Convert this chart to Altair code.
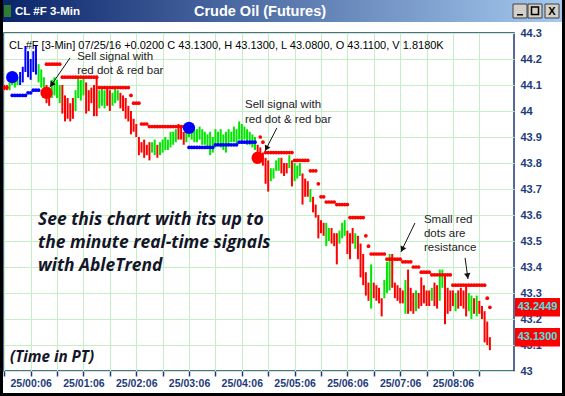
import math
import altair as alt
import pandas as pd

# ---------------- data (3-minute bars, index 0 = 24/23:36) ----------------
bar_high = [
    44.10, 44.10, 44.11, 44.14, 44.13, 44.13, 44.15, 44.17, 44.25, 44.23,
    44.20, 44.23, 44.25, 44.18, 44.16, 44.13, 44.10, 44.09, 44.12, 44.13,
    44.12, 44.10, 44.10, 44.06, 44.05, 44.03, 44.05, 44.08, 44.13, 44.12,
    44.13, 44.11, 44.08, 44.09, 44.10, 44.13, 44.08, 44.09, 44.08, 44.09,
    44.08, 44.07, 44.09, 44.08, 44.07, 44.06, 44.05, 44.02, 44.00, 43.97,
    43.95, 43.90, 43.88, 43.89, 43.87, 43.88, 43.88, 43.89, 43.87, 43.88,
    43.89, 43.90, 43.89, 43.92, 43.92, 43.93, 43.95, 43.94, 43.92, 43.93,
    43.95, 43.94, 43.93, 43.93, 43.94, 43.93, 43.92, 43.91, 43.92, 43.90,
    43.93, 43.92, 43.93, 43.91, 43.92, 43.93, 43.92, 43.94, 43.93, 43.96,
    43.95, 43.94, 43.93, 43.92, 43.91, 43.90, 43.87, 43.86, 43.84, 43.82,
    43.81, 43.78, 43.78, 43.81, 43.82, 43.82, 43.80, 43.80, 43.83, 43.81,
    43.80, 43.79, 43.80, 43.76, 43.74, 43.73, 43.70, 43.67, 43.64, 43.60,
    43.58, 43.57, 43.57, 43.55, 43.55, 43.53, 43.53, 43.54, 43.57, 43.58,
    43.54, 43.53, 43.55, 43.53, 43.52, 43.49, 43.45, 43.38, 43.34, 43.41,
    43.34, 43.33, 43.32, 43.28, 43.35, 43.42, 43.45, 43.45, 43.34, 43.33,
    43.32, 43.31, 43.35, 43.39, 43.32, 43.30, 43.31, 43.30, 43.36, 43.33,
    43.31, 43.31, 43.32, 43.34, 43.33, 43.39, 43.39, 43.37, 43.32, 43.31,
    43.31, 43.30, 43.31, 43.32, 43.31, 43.33, 43.30, 43.29, 43.28, 43.29,
    43.27, 43.25, 43.23, 43.19, 43.13,
]
bar_low = [
    44.08, 44.08, 44.08, 44.10, 44.09, 44.10, 44.10, 44.11, 44.15, 44.13,
    44.12, 44.15, 44.14, 44.11, 44.09, 44.07, 44.03, 44.02, 44.05, 44.06,
    44.05, 44.03, 43.99, 43.96, 43.97, 43.96, 43.97, 44.00, 44.05, 44.04,
    44.06, 43.99, 44.00, 44.03, 43.98, 43.98, 44.01, 44.02, 44.01, 44.02,
    44.00, 44.02, 44.03, 44.04, 44.01, 44.00, 43.97, 43.96, 43.91, 43.92,
    43.90, 43.83, 43.84, 43.82, 43.83, 43.81, 43.84, 43.83, 43.82, 43.83,
    43.84, 43.85, 43.85, 43.86, 43.87, 43.88, 43.89, 43.89, 43.87, 43.88,
    43.90, 43.89, 43.88, 43.88, 43.89, 43.87, 43.87, 43.86, 43.83, 43.84,
    43.86, 43.87, 43.86, 43.85, 43.84, 43.87, 43.88, 43.88, 43.87, 43.89,
    43.88, 43.89, 43.87, 43.87, 43.86, 43.85, 43.82, 43.81, 43.79, 43.72,
    43.69, 43.73, 43.74, 43.77, 43.77, 43.76, 43.75, 43.76, 43.78, 43.71,
    43.73, 43.74, 43.75, 43.64, 43.67, 43.67, 43.65, 43.61, 43.59, 43.51,
    43.53, 43.52, 43.48, 43.50, 43.49, 43.48, 43.41, 43.49, 43.51, 43.52,
    43.45, 43.43, 43.49, 43.47, 43.43, 43.36, 43.33, 43.29, 43.27, 43.24,
    43.28, 43.27, 43.26, 43.21, 43.28, 43.30, 43.31, 43.32, 43.28, 43.27,
    43.26, 43.26, 43.22, 43.22, 43.23, 43.22, 43.23, 43.24, 43.25, 43.26,
    43.25, 43.25, 43.27, 43.25, 43.24, 43.27, 43.32, 43.18, 43.22, 43.23,
    43.25, 43.23, 43.24, 43.25, 43.24, 43.21, 43.23, 43.20, 43.22, 43.21,
    43.22, 43.20, 43.11, 43.10, 43.08,
]
# b = strong up (blue), g = neutral (green), r = down (red)
bar_trend = list(
    "rrggggbbbb" "bbbgggrrgg" "ggrrrrrggg" "grrrrrgggr" "rgggrrrrrr"
    "rrrrrrggrg" "ggggggrrrg" "gggggggggg" "gggggggggg" "ggggggrrrr"
    "rggggrrrgr" "gggrrrgrrr" "rrggrrrggg" "rrrgrrrrrg" "rrrrgggrrr"
    "rrgrrrgrrr" "rrgrrggrrr" "rgrrrrggrg" "rrrrr"
)

# stepped stop levels (small dots): first bar, last bar, price
red_stop_from = [0, 16, 22, 36, 48, 49, 52, 55, 97, 98, 99, 110, 116, 119, 120,
                 122, 126, 131, 137, 138, 139, 145, 151, 155, 158, 162, 170, 183, 184]
red_stop_to = [1, 21, 35, 47, 48, 51, 54, 68, 97, 98, 109, 115, 118, 119, 121,
               125, 130, 136, 137, 138, 144, 150, 154, 157, 161, 169, 182, 183, 184]
red_stop_price = [44.09, 44.18, 44.13, 44.09, 44.06, 44.03, 43.95, 43.94, 43.90, 43.88,
                  43.84, 43.81, 43.77, 43.72, 43.67, 43.65, 43.64, 43.59, 43.52, 43.48,
                  43.45, 43.43, 43.42, 43.40, 43.38, 43.37, 43.33, 43.28, 43.2449]
blue_stop_from = [3, 9, 11, 70, 80, 89]
blue_stop_to = [8, 10, 13, 79, 88, 95]
blue_stop_price = [44.06, 44.07, 44.08, 43.86, 43.87, 43.88]

signal_bar = [3, 16, 70, 96]
signal_price = [44.13, 44.07, 43.935, 43.82]
signal_kind = ["buy", "sell", "buy", "sell"]

x_tick_bars = list(range(0, 181, 10))
x_label_bars = [10, 30, 50, 70, 90, 110, 130, 150, 170]
x_label_text = ["25/00:06", "25/01:06", "25/02:06", "25/03:06", "25/04:06",
                "25/05:06", "25/06:06", "25/07:06", "25/08:06"]
y_ticks = [43.0, 43.1, 43.2, 43.3, 43.4, 43.5, 43.6, 43.7, 43.8, 43.9,
           44.0, 44.1, 44.2, 44.3]
last_values = [43.2449, 43.13]
last_labels = ["43.2449", "43.1300"]

header = "CL #F [3-Min] 07/25/16  +0.0200 C 43.1300, H 43.1300, L 43.0800, O 43.1100, V 1.8180K"

note_text = ["Sell signal with", "red dot & red bar", "Sell signal with",
             "red dot & red bar", "Small red", "dots are", "resistance"]
note_bar = [27.6, 27.6, 91.2, 91.2, 159.0, 159.0, 159.0]
note_price = [44.208, 44.154, 44.023, 43.965, 43.581, 43.527, 43.473]

arrow_bar0 = [24.9, 103.3, 155.6, 174.6]
arrow_price0 = [44.204, 43.935, 43.569, 43.435]
arrow_bar1 = [17.3, 98.8, 150.3, 175.7]
arrow_price1 = [44.092, 43.846, 43.458, 43.354]

promo_text = ["See this chart with its up to", "the minute real-time signals", "with AbleTrend"]
promo_bar = [12.8, 12.8, 12.8]
promo_price = [43.581, 43.492, 43.404]
time_note = "(Time in PT)"
time_note_bar = [2.2]
time_note_price = [43.054]

# ---------------- styling ----------------
W, H = 510, 338
XDOM = [-0.11, 193.14]
YDOM = [43.0, 44.3]
PXB = W / (XDOM[1] - XDOM[0])
PXP = H / (YDOM[1] - YDOM[0])
NAVY = "#1d3b7c"
GRID = "#c4efc4"
FONT = "Liberation Sans"

label_expr = "".join(f"datum.value == {b} ? '{t}' : " for b, t in zip(x_label_bars, x_label_text)) + "''"

X_SCALE = alt.Scale(domain=XDOM, nice=False, zero=False)
Y_SCALE = alt.Scale(domain=YDOM, nice=False, zero=False)
X_AXIS = alt.Axis(values=x_tick_bars, labelExpr=label_expr, grid=True, gridColor=GRID,
                  gridOpacity=1, domain=False, ticks=True, tickSize=5, tickColor=NAVY,
                  tickWidth=1.5, labelFont=FONT, labelFontWeight="bold", labelFontSize=10.5,
                  labelColor=NAVY, labelPadding=2, title=None, labelAngle=0,
                  labelOverlap=False, labelFlush=False)
Y_AXIS = alt.Axis(orient="right", values=y_ticks, format=".1~f", grid=True, gridColor=GRID,
                  gridOpacity=1, domain=False, ticks=False, labelFont=FONT,
                  labelFontWeight="bold", labelFontSize=11, labelColor=NAVY, labelPadding=6,
                  title=None, labelOverlap=False, labelFlush=False)


def X(f):
    return alt.X(f, type="quantitative", scale=X_SCALE, axis=X_AXIS)


def Y(f):
    return alt.Y(f, type="quantitative", scale=Y_SCALE, axis=Y_AXIS)


# ---------------- tables ----------------
bars = pd.DataFrame({"bar": list(range(len(bar_high))), "high": bar_high,
                     "low": bar_low, "trend": bar_trend})


def expand(starts, ends, prices):
    rows = []
    for s, e, p in zip(starts, ends, prices):
        for b in range(s, e + 1):
            rows.append({"bar": b, "price": p})
    return pd.DataFrame(rows)


red_dots = expand(red_stop_from, red_stop_to, red_stop_price)
blue_dots = expand(blue_stop_from, blue_stop_to, blue_stop_price)
signals = pd.DataFrame({"bar": signal_bar, "price": signal_price, "kind": signal_kind})
notes = pd.DataFrame({"bar": note_bar, "price": note_price, "t": note_text})
promo = pd.DataFrame({"bar": promo_bar, "price": promo_price, "t": promo_text})
tnote = pd.DataFrame({"bar": time_note_bar, "price": time_note_price, "t": [time_note]})

arrows = pd.DataFrame({"b0": arrow_bar0, "p0": arrow_price0, "b1": arrow_bar1, "p1": arrow_price1})
heads = []
for b0, p0, b1, p1 in zip(arrow_bar0, arrow_price0, arrow_bar1, arrow_price1):
    dx = (b1 - b0) * PXB
    dy = -(p1 - p0) * PXP
    L = math.hypot(dx, dy)
    ang = math.degrees(math.atan2(dx, -dy)) % 360
    back = 3.0
    heads.append({"bar": b1 - dx / L * back / PXB, "price": p1 + dy / L * back / PXP, "ang": ang})
heads = pd.DataFrame(heads)

boxes = pd.DataFrame({"v": last_values, "lab": last_labels,
                      "top": [v + 0.0355 for v in last_values],
                      "bot": [v - 0.0355 for v in last_values]})

one = pd.DataFrame({"k": [0]})


def box(ax0, ay0, ax1, ay1, **kw):
    return alt.Chart(one).mark_rect(**kw).encode(
        x=alt.value(ax0 - 4), x2=alt.value(ax1 - 4), y=alt.value(ay0 - 33), y2=alt.value(ay1 - 33))


def label(txt, ax, ay, **kw):
    return alt.Chart(one).mark_text(text=txt, **kw).encode(x=alt.value(ax - 4), y=alt.value(ay - 33))


# ---------------- layers ----------------
bar_layer = alt.Chart(bars).mark_rule(strokeWidth=2).encode(
    x=X("bar"), y=Y("low"), y2="high",
    color=alt.Color("trend:N", scale=alt.Scale(domain=["b", "g", "r"],
                                                range=["#0000ff", "#00e600", "#ff0000"]), legend=None))
red_layer = alt.Chart(red_dots).mark_circle(size=14, opacity=1, color="#ff0000").encode(x=X("bar"), y=Y("price"))
blue_layer = alt.Chart(blue_dots).mark_circle(size=14, opacity=1, color="#0000ff").encode(x=X("bar"), y=Y("price"))
buy_layer = alt.Chart(signals).transform_filter(alt.datum.kind == "buy").mark_circle(
    size=150, opacity=1, color="#0000ff").encode(x=X("bar"), y=Y("price"))
sell_layer = alt.Chart(signals).transform_filter(alt.datum.kind == "sell").mark_circle(
    size=150, opacity=1, color="#ff0000").encode(x=X("bar"), y=Y("price"))

note_layer = alt.Chart(notes).mark_text(align="left", baseline="middle", font=FONT, fontSize=11.5,
                                        color="#222222").encode(x=X("bar"), y=Y("price"), text="t:N")
arrow_layer = alt.Chart(arrows).mark_rule(strokeWidth=1, color="#111111").encode(
    x=X("b0"), y=Y("p0"), x2="b1", y2="p1")
head_layer = alt.Chart(heads).mark_point(shape="triangle-up", filled=True, size=40, opacity=1,
                                         color="#111111").encode(x=X("bar"), y=Y("price"),
                                                                 angle=alt.Angle("ang:Q", scale=None))
promo_layer = alt.Chart(promo).mark_text(align="left", baseline="middle", font="Open Sans", fontSize=17.4,
                                         fontWeight="bold", fontStyle="italic",
                                         color="#15152a").encode(x=X("bar"), y=Y("price"), text="t:N")
tnote_layer = alt.Chart(tnote).mark_text(align="left", baseline="middle", font="Open Sans", fontSize=15.2,
                                         fontWeight="bold", fontStyle="italic",
                                         color="#15152a").encode(x=X("bar"), y=Y("price"), text="t:N")

box_layer = alt.Chart(boxes).mark_rect(color="#ff0000").encode(
    x=alt.value(511), x2=alt.value(556), y=Y("top"), y2="bot")
box_text = alt.Chart(boxes).mark_text(font=FONT, fontWeight="bold", fontSize=11, color="#3fe6e6",
                                      align="center", baseline="middle").encode(
    x=alt.value(533.5), y=Y("v"), text="lab:N")

chrome = [
    box(0, 0, 565, 22, fill=alt.Gradient(gradient="linear",
                                          stops=[alt.GradientStop(color="#0a246a", offset=0),
                                                 alt.GradientStop(color="#a6caf0", offset=1)],
                                          x1=0, x2=1, y1=0, y2=0)),
    box(0, 0, 3, 396, color="#000000"),
    box(562, 0, 565, 396, color="#000000"),
    box(0, 393, 565, 396, color="#000000"),
    label("Crude Oil (Futures)", 260, 12, font=FONT, fontSize=14.5, fontWeight="bold",
          color="white", align="center", baseline="middle"),
    label("CL #F 3-Min", 15, 12, font=FONT, fontSize=11.5, fontWeight="bold",
          color="white", align="left", baseline="middle"),
    box(4, 5, 11, 17, color="#2e7d32"),
    box(513, 4, 527, 18, color="#d4d0c8", stroke="#404040", strokeWidth=1),
    box(528, 4, 542, 18, color="#d4d0c8", stroke="#404040", strokeWidth=1),
    box(545, 4, 559, 18, color="#d4d0c8", stroke="#404040", strokeWidth=1),
    box(517, 14, 523, 15.5, color="#000000"),
    box(531.5, 7, 538.5, 14.5, fill="#d4d0c8", stroke="#000000", strokeWidth=1.5),
    label("X", 552, 11.5, font=FONT, fontSize=11, fontWeight="bold", color="#000000",
          align="center", baseline="middle"),
    label(header, 9, 46, font=FONT, fontSize=11, color="#000000", align="left", baseline="middle"),
]

chart = alt.layer(
    bar_layer, red_layer, blue_layer, buy_layer, sell_layer, arrow_layer, head_layer, note_layer,
    promo_layer, tnote_layer, box_layer, box_text, *chrome
).properties(
    width=W, height=H,
    padding={"left": 4, "top": 33, "right": 51, "bottom": 25},
    autosize=alt.AutoSizeParams(type="none"),
    background="white",
).configure_view(stroke="#1f3a70", strokeWidth=1.5)

chart.save("out.html", embed_options={"renderer": "svg", "actions": False})
